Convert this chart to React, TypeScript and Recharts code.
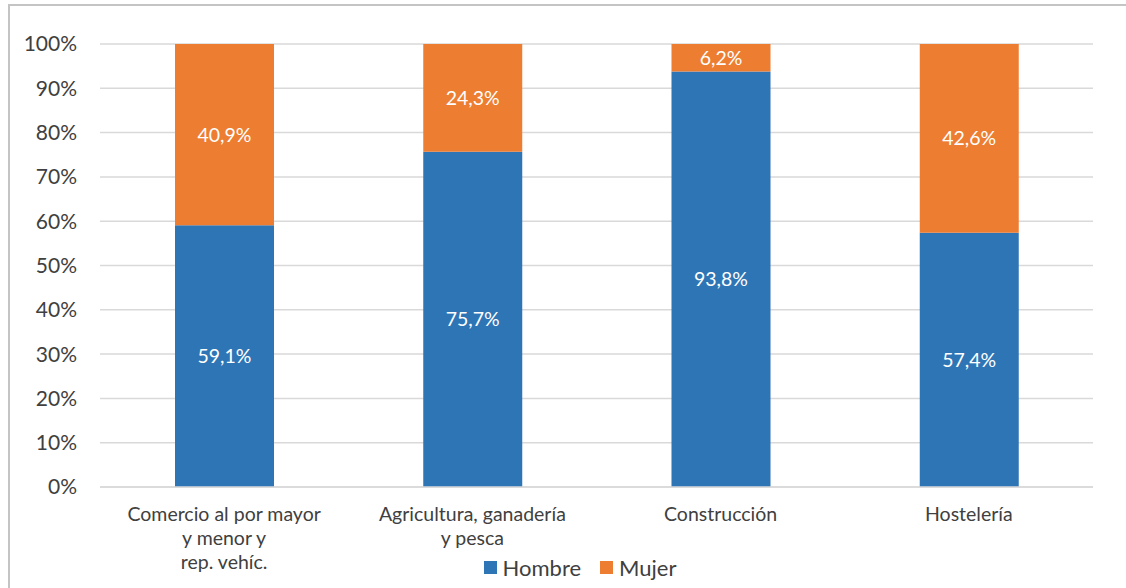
import { BarChart, Bar, XAxis, YAxis, CartesianGrid, Legend, LabelList } from "recharts";

const categories = [
  "Comercio al por mayor\ny menor y\nrep. vehíc.",
  "Agricultura, ganadería\ny pesca",
  "Construcción",
  "Hostelería",
];
const hombre = [59.1, 75.7, 93.8, 57.4];
const mujer = [40.9, 24.3, 6.2, 42.6];
const yTicks = [0, 10, 20, 30, 40, 50, 60, 70, 80, 90, 100];

const BLUE = "#2E75B6";
const ORANGE = "#ED7D31";
const TEXT = "#404040";
const FONT = "Lato, 'Open Sans', sans-serif";

const data = categories.map((name, i) => ({
  name,
  Hombre: hombre[i],
  Mujer: mujer[i],
}));

const pct = (v: any) => `${String(v).replace(".", ",")}%`;

function CategoryTick(props: any) {
  const { x, y, payload } = props;
  const lines = String(payload.value).split("\n");
  return (
    <text x={x} y={y} textAnchor="middle" fill={TEXT} fontSize={19.5} fontFamily={FONT}>
      {lines.map((line, i) => (
        <tspan key={i} x={x} y={y + 34 + i * 24}>
          {line}
        </tspan>
      ))}
    </text>
  );
}

function LegendContent() {
  const items = [
    { label: "Hombre", color: BLUE },
    { label: "Mujer", color: ORANGE },
  ];
  return (
    <div style={{ display: "flex", justifyContent: "center", gap: 19, fontFamily: FONT, fontSize: 22, color: TEXT }}>
      {items.map((it) => (
        <div key={it.label} style={{ display: "flex", alignItems: "center", gap: 6 }}>
          <span style={{ display: "inline-block", width: 13, height: 13, background: it.color }} />
          <span>{it.label}</span>
        </div>
      ))}
    </div>
  );
}

export default function App() {
  return (
    <div style={{ position: "absolute", left: 0, top: 0, width: 1126, height: 588, overflow: "hidden", background: "#fff" }}>
      <div
        style={{
          position: "absolute",
          left: 8,
          top: 4,
          width: 1200,
          height: 700,
          border: "2px solid #c4c4c4",
        }}
      />
      <div style={{ position: "absolute", left: 0, top: 0 }}>
        <BarChart
          width={1126}
          height={588}
          data={data}
          margin={{ top: 44, right: 33, left: 0, bottom: 0 }}
        >
          <CartesianGrid vertical={false} stroke="#d9d9d9" strokeWidth={1.5} />
          <XAxis
            dataKey="name"
            height={101}
            tickLine={false}
            tickSize={0}
            tickMargin={0}
            axisLine={{ stroke: "#d9d9d9", strokeWidth: 1.5 }}
            tick={<CategoryTick />}
            interval={0}
          />
          <YAxis
            width={100}
            domain={[0, 100]}
            ticks={yTicks}
            tickFormatter={(v) => `${v}%`}
            axisLine={false}
            tickLine={false}
            tickSize={0}
            tickMargin={23}
            tick={{ fill: TEXT, fontSize: 21, fontFamily: FONT }}
          />
          <Legend
            verticalAlign="middle"
            align="center"
            content={<LegendContent />}
            wrapperStyle={{ top: 554, left: 34, width: 1092 }}
          />
          <Bar dataKey="Hombre" stackId="a" fill={BLUE} barSize={99} isAnimationActive={false}>
            <LabelList dataKey="Hombre" position="center" formatter={pct} fill="#fff" fontSize={19.5} fontFamily={FONT} />
          </Bar>
          <Bar dataKey="Mujer" stackId="a" fill={ORANGE} barSize={99} isAnimationActive={false}>
            <LabelList dataKey="Mujer" position="center" formatter={pct} fill="#fff" fontSize={19.5} fontFamily={FONT} />
          </Bar>
        </BarChart>
      </div>
    </div>
  );
}
